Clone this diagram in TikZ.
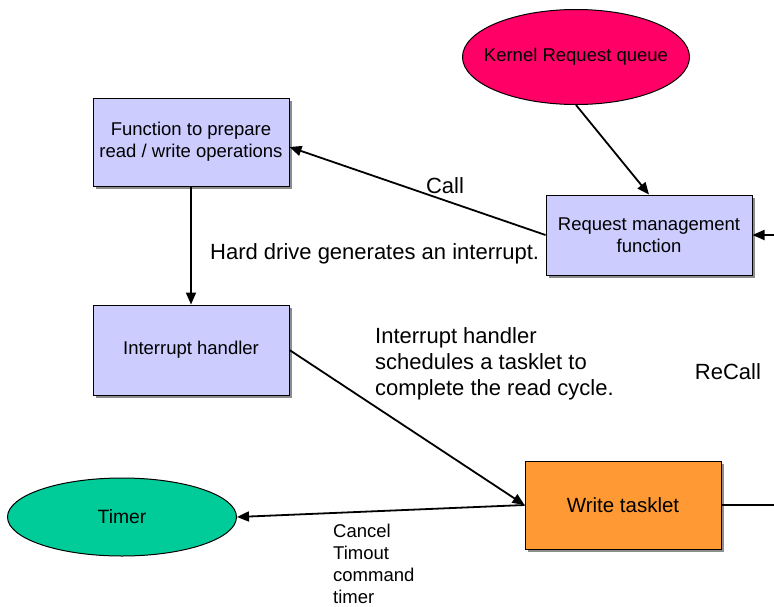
\documentclass[tikz,border=0pt]{standalone}
\usepackage{fontspec}
\setmainfont{Liberation Sans}
\usetikzlibrary{shapes.geometric,arrows.meta,shadows}
\definecolor{boxblue}{RGB}{204,204,255}
\definecolor{queuered}{RGB}{255,0,102}
\definecolor{timergreen}{RGB}{0,204,153}
\definecolor{taskorange}{RGB}{255,153,51}
\tikzset{
  boxshadow/.style={drop shadow={shadow xshift=2.5pt,shadow yshift=-2.5pt,fill=black!45,opacity=1}},
  funcbox/.style={draw,line width=1pt,fill=boxblue,minimum width=196pt,minimum height=88pt,align=center,
    font=\fontsize{18.5}{22}\selectfont,boxshadow},
  blob/.style={draw,line width=1pt,ellipse,inner sep=0pt,font=\fontsize{18.5}{22}\selectfont},
  arr/.style={line width=1.8pt,-{Triangle[length=12pt,width=10pt]}},
  lbl/.style={font=\fontsize{22}{26}\selectfont,inner sep=0pt}
}
\begin{document}
\begin{tikzpicture}[x=1pt,y=-1pt]
    \useasboundingbox (0,0) rectangle (774,606);
    % boxes and ellipses
    \node[blob,fill=queuered,minimum width=227pt,minimum height=95pt,inner xsep=-12pt] (queue) at (576,57) {Kernel Request queue};
    \node[funcbox] (prepare) at (191,142) {Function to prepare\\read / write operations};
    \node[funcbox,minimum width=206pt,minimum height=80pt] (request) at (649,235) {Request management\\function};
    \node[funcbox,minimum height=90pt] (irq) at (191,350) {Interrupt handler};
    \node[funcbox,fill=taskorange,font=\fontsize{20.5}{24}\selectfont] (tasklet) at (623,505) {Write tasklet};
    \node[blob,fill=timergreen,minimum width=229pt,minimum height=78pt,font=\fontsize{19.3}{22}\selectfont] (timer) at (122,517) {Timer};
    \coordinate (recallin) at (774,235);
    \coordinate (recallout) at (774,505);
    % connectors
    \draw[arr] (queue.south) -- (request.north);
    \draw[arr] (request.west) -- ([yshift=-5pt]prepare.east);
    \draw[arr] (recallin) -- (request.east);
    \draw[arr] (prepare.south) -- (irq.north);
    \draw[arr] (irq.east) -- (tasklet.west);
    \draw[arr] (tasklet.west) -- (timer.east);
    \draw[line width=1.8pt] (tasklet.east) -- (recallout);
    % labels
    \node[lbl] (call) at (445,186) {Call};
    \node[lbl,anchor=west] (harddrive) at (210,254) {Hard drive generates an interrupt.};
    \node[lbl,anchor=north west,align=left] (schedule) at (375,327) {Interrupt handler\\schedules a tasklet to\\complete the read cycle.};
    \node[lbl] (recall) at (728,372) {ReCall};
    \node[lbl,anchor=north west,align=left,font=\fontsize{18.5}{22}\selectfont] (cancel) at (333,524) {Cancel\\Timout\\command\\timer};
\end{tikzpicture}
\end{document}
